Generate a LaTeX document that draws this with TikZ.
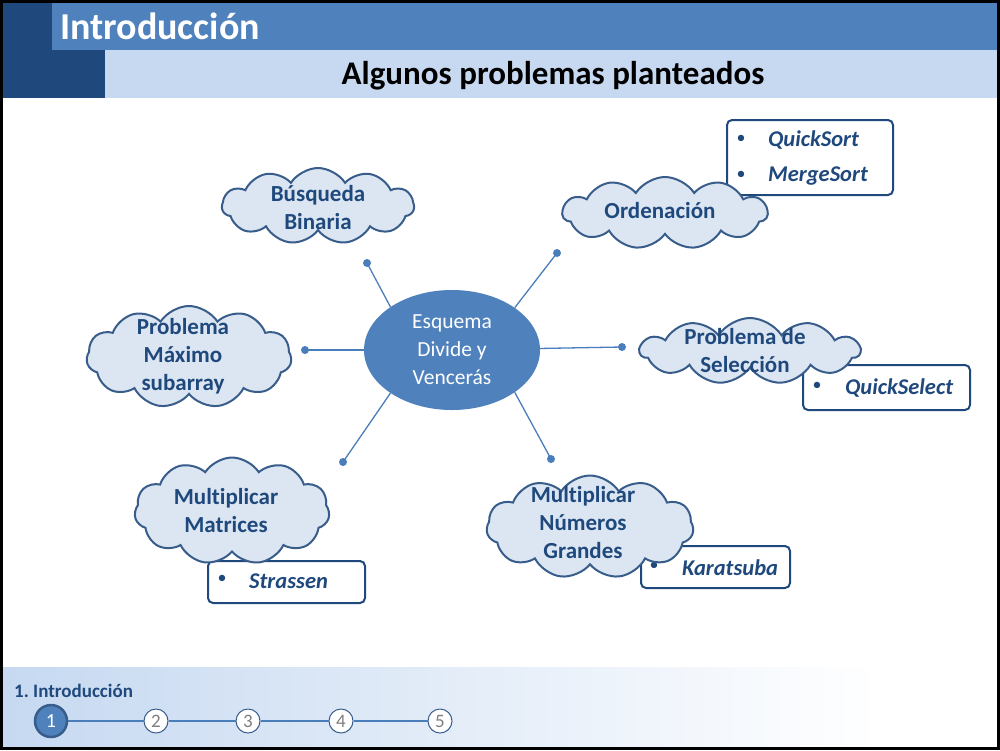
\documentclass[tikz,border=0pt]{standalone}
\usepackage{fontspec}
\setmainfont{Carlito}[Ligatures=NoCommon]
\usetikzlibrary{shapes.symbols,shapes.geometric}
\definecolor{tbar}{HTML}{4F81BD}
\definecolor{dkblue}{HTML}{1F497D}
\definecolor{ltbar}{HTML}{C6D9F1}
\definecolor{cloudfill}{HTML}{DCE6F2}
\definecolor{cloudline}{HTML}{385D8A}
\definecolor{spoke}{HTML}{4A7EBB}
\definecolor{numgray}{HTML}{7F7F7F}
\tikzset{
  cloudnode/.style={cloud, cloud puffs=11, cloud puff arc=115, aspect=2.4, draw=cloudline, fill=cloudfill, line width=2pt, inner sep=0pt},
  cloudtext/.style={text=dkblue, font=\fontsize{23}{28}\selectfont\bfseries, align=center},
  listbox/.style={draw=dkblue, fill=white, line width=2pt, rounded corners=5pt},
  bullettext/.style={text=dkblue, font=\fontsize{22.5}{26}\selectfont\bfseries\itshape, anchor=west, inner sep=0pt},
  bulletdot/.style={text=dkblue, font=\fontsize{18}{24}\selectfont, inner sep=0pt},
  spokeline/.style={draw=spoke, line width=1.3pt},
  spokedot/.style={circle, fill=spoke, minimum size=8pt, inner sep=0pt},
  stepcirc/.style={circle, draw=cloudline, fill=white, line width=1pt, minimum size=24pt, inner sep=0pt, text=numgray, font=\fontsize{19}{20}\selectfont},
}
\frenchspacing
\begin{document}
\begin{tikzpicture}[x=1pt,y=-1pt]
\useasboundingbox (0,0) rectangle (1000,750);
% background
\fill[white] (0,0) rectangle (1000,750);
% header
\fill[tbar] (52,3) rectangle (997,50);
\fill[dkblue] (3,3) rectangle (52,98);
\fill[dkblue] (52,50) rectangle (105,98);
\fill[ltbar] (105,50) rectangle (997,98);
\node[anchor=west, text=white, font=\fontsize{38}{40}\selectfont\bfseries, inner sep=0pt] (title) at (60,26) {Introducción};
\node[text=black, font=\fontsize{33}{36}\selectfont\bfseries, inner sep=0pt] (subtitle) at (553,76) {Algunos problemas planteados};
% footer
\shade[left color=ltbar, right color=white] (3,667) rectangle (880,747);
\node[anchor=west, text=dkblue, font=\fontsize{19}{20}\selectfont\bfseries, inner sep=0pt] (foot) at (14,691) {1. Introducción};
\node[circle, fill=tbar, draw=cloudline, line width=2.5pt, minimum size=32pt, inner sep=0pt, text=white, font=\fontsize{20}{20}\selectfont] (s1) at (51,721) {1};
\node[stepcirc] (s2) at (156,721) {2};
\node[stepcirc] (s3) at (248,721) {3};
\node[stepcirc] (s4) at (341,721) {4};
\node[stepcirc] (s5) at (440,721) {5};
\draw[spokeline, line width=1.2pt] (s1) -- (s2);
\draw[spokeline, line width=1.2pt] (s2) -- (s3);
\draw[spokeline, line width=1.2pt] (s3) -- (s4);
\draw[spokeline, line width=1.2pt] (s4) -- (s5);
% center ellipse
\node[ellipse, fill=tbar, minimum width=176pt, minimum height=120pt, inner sep=0pt, text=white, align=center, font=\fontsize{21.5}{28}\selectfont] (ell) at (452,350) {Esquema\\Divide y\\Vencerás};
% spoke endpoints
\node[spokedot] (d1) at (367,263) {};
\node[spokedot] (d2) at (557,253) {};
\node[spokedot] (d3) at (622,347) {};
\node[spokedot] (d4) at (551,459) {};
\node[spokedot] (d5) at (343,462) {};
\node[spokedot] (d6) at (305,350) {};
\draw[spokeline] (ell.145) -- (d1.center);
\draw[spokeline] (ell.34) -- (d2.center);
\draw[spokeline] (ell.1) -- (d3.center);
\draw[spokeline] (ell.-34) -- (d4.center);
\draw[spokeline] (ell.215) -- (d5.center);
\draw[spokeline] (ell.180) -- (d6.center);
% list boxes
\draw[listbox] (727,120) rectangle (893,195);
\node[bulletdot] (b1) at (741,139) {•};
\node[bullettext] (qs) at (768,140) {QuickSort};
\node[bulletdot] (b2) at (741,175) {•};
\node[bullettext] (ms) at (768,176) {MergeSort};
\draw[listbox] (803,365) rectangle (970,410);
\node[bulletdot] (b3) at (817,386) {•};
\node[bullettext] (qsel) at (845,388) {QuickSelect};
\draw[listbox] (641,546) rectangle (790,588);
\node[bulletdot] (b4) at (654,566) {•};
\node[bullettext] (kar) at (682,568) {Karatsuba};
\draw[listbox] (208,561) rectangle (365,603);
\node[bulletdot] (b5) at (222,579) {•};
\node[bullettext] (str) at (249,581) {Strassen};
% clouds
\node[cloudnode, minimum width=192pt, minimum height=76pt] (c1) at (318,206) {};
\node[cloudtext] at (318,208) {Búsqueda\\Binaria};
\node[cloudnode, minimum width=205pt, minimum height=72pt] (c2) at (665,213) {};
\node[cloudtext] at (660,211) {Ordenación};
\node[cloudnode, minimum width=205pt, minimum height=102pt] (c3) at (189,357) {};
\node[cloudtext] at (183,356) {Problema\\Máximo\\subarray};
\node[cloudnode, minimum width=220pt, minimum height=66pt] (c4) at (750,351) {};
\node[cloudtext] at (745,351) {Problema de\\Selección};
\node[cloudnode, minimum width=195pt, minimum height=107pt] (c5) at (232,511) {};
\node[cloudtext] at (226,511) {Multiplicar\\Matrices};
\node[cloudnode, minimum width=207pt, minimum height=103pt] (c6) at (590,527) {};
\node[cloudtext] at (583,523) {Multiplicar\\Números\\Grandes};
% frame
\draw[black, line width=3pt] (1.5,1.5) rectangle (998.5,748.5);
\end{tikzpicture}
\end{document}
